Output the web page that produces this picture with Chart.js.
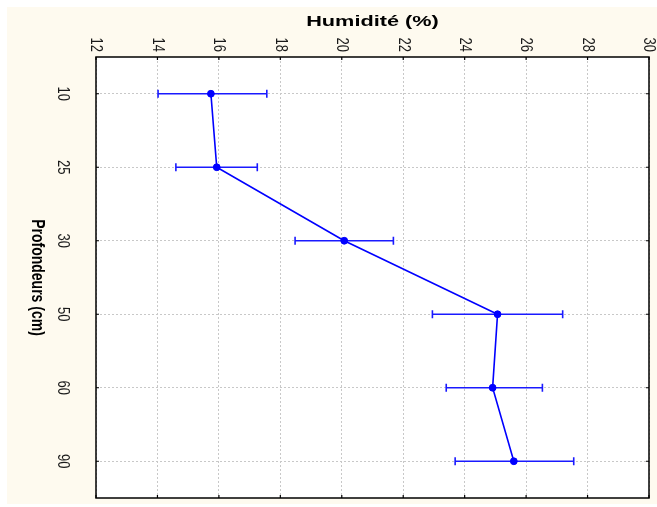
<!DOCTYPE html>
<html>
<head>
<meta charset="utf-8">
<script src="https://cdn.jsdelivr.net/npm/chart.js@4/dist/chart.umd.min.js"></script>
<style>
html,body{margin:0;padding:0;background:#ffffff;}
canvas{display:block;}
</style>
</head>
<body>
<canvas id="c" width="657" height="507" style="width:657px;height:507px"></canvas>
<script>
const depths = ['10', '25', '30', '50', '60', '90'];
const humidityMean = [15.74, 15.93, 20.08, 25.07, 24.91, 25.6];
const humidityLow = [14.02, 14.6, 18.48, 22.95, 23.4, 23.69];
const humidityHigh = [17.56, 17.25, 21.68, 27.19, 26.53, 27.55];
const xTickValues = [12, 14, 16, 18, 20, 22, 24, 26, 28, 30];
const xTitle = 'Humidité (%)';
const yTitle = 'Profondeurs (cm)';

const SX = 1.3;

const decorPlugin = {
  id: 'decor',
  beforeDraw(chart) {
    const ctx = chart.ctx, a = chart.chartArea;
    ctx.save();
    ctx.fillStyle = '#ffffff';
    ctx.fillRect(0, 0, chart.width, chart.height);
    ctx.fillStyle = '#fefaef';
    ctx.fillRect(7, 7, chart.width - 7, chart.height - 10);
    ctx.fillStyle = '#ffffff';
    ctx.fillRect(a.left, a.top, a.right - a.left, a.bottom - a.top);
    ctx.restore();
  },
  beforeDatasetsDraw(chart) {
    const ctx = chart.ctx, a = chart.chartArea;
    const xs = chart.scales.x, ys = chart.scales.y;
    ctx.save();
    ctx.strokeStyle = '#000000';
    ctx.lineWidth = 1.5;
    ctx.strokeRect(a.left, a.top, a.right - a.left, a.bottom - a.top);
    ctx.lineWidth = 1.2;
    ctx.beginPath();
    xTickValues.forEach(v => {
      const px = xs.getPixelForValue(v);
      ctx.moveTo(px, a.top); ctx.lineTo(px, a.top + 3);
      ctx.moveTo(px, a.bottom); ctx.lineTo(px, a.bottom - 3);
    });
    depths.forEach((d, i) => {
      const py = ys.getPixelForValue(i);
      ctx.moveTo(a.left, py); ctx.lineTo(a.left + 3, py);
      ctx.moveTo(a.right, py); ctx.lineTo(a.right - 3, py);
    });
    ctx.stroke();
    ctx.strokeStyle = '#1a1aff';
    ctx.lineWidth = 1.6;
    ctx.beginPath();
    depths.forEach((d, i) => {
      const py = ys.getPixelForValue(i);
      const x0 = xs.getPixelForValue(humidityLow[i]);
      const x1 = xs.getPixelForValue(humidityHigh[i]);
      ctx.moveTo(x0, py); ctx.lineTo(x1, py);
      ctx.moveTo(x0, py - 4); ctx.lineTo(x0, py + 4);
      ctx.moveTo(x1, py - 4); ctx.lineTo(x1, py + 4);
    });
    ctx.stroke();
    ctx.restore();
  },
  afterDraw(chart) {
    const ctx = chart.ctx, a = chart.chartArea;
    const xs = chart.scales.x, ys = chart.scales.y;
    ctx.save();
    ctx.fillStyle = '#1a1a1a';
    ctx.font = '13px "Liberation Sans", Arial, sans-serif';
    ctx.textAlign = 'right';
    ctx.textBaseline = 'middle';
    xTickValues.forEach(v => {
      const px = xs.getPixelForValue(v);
      ctx.save();
      ctx.translate(px, a.top - 5);
      ctx.scale(SX, 1);
      ctx.rotate(Math.PI / 2);
      ctx.fillText(String(v), 0, 0);
      ctx.restore();
    });
    ctx.textAlign = 'center';
    depths.forEach((d, i) => {
      const py = ys.getPixelForValue(i);
      ctx.save();
      ctx.translate(a.left - 33, py);
      ctx.scale(SX, 1);
      ctx.rotate(Math.PI / 2);
      ctx.fillText(d, 0, 0);
      ctx.restore();
    });
    ctx.fillStyle = '#000000';
    ctx.font = 'bold 14px "Liberation Sans", Arial, sans-serif';
    ctx.save();
    ctx.translate((a.left + a.right) / 2, 22);
    ctx.scale(1.55, 1);
    ctx.textAlign = 'center';
    ctx.fillText(xTitle, 0, 0);
    ctx.restore();
    ctx.font = 'bold 14px "Liberation Sans Narrow", "Liberation Sans", Arial, sans-serif';
    ctx.save();
    ctx.translate(37, (a.top + a.bottom) / 2);
    ctx.scale(1.25, 1);
    ctx.rotate(Math.PI / 2);
    ctx.textAlign = 'center';
    ctx.fillText(yTitle, 0, 0);
    ctx.restore();
    ctx.restore();
  }
};

new Chart(document.getElementById('c'), {
  type: 'line',
  data: {
    labels: depths,
    datasets: [{
      data: humidityMean,
      borderColor: '#0000ff',
      borderWidth: 1.6,
      backgroundColor: '#0000ff',
      pointBackgroundColor: '#0000ff',
      pointBorderColor: '#0000ff',
      pointRadius: 3.4,
      pointBorderWidth: 1,
      tension: 0,
      fill: false
    }]
  },
  options: {
    indexAxis: 'y',
    responsive: false,
    animation: false,
    devicePixelRatio: 1,
    layout: { padding: { left: 96, top: 57, right: 8, bottom: 9 } },
    plugins: { legend: { display: false }, tooltip: { enabled: false } },
    scales: {
      x: {
        type: 'linear',
        position: 'top',
        min: 12,
        max: 30,
        ticks: { stepSize: 2, display: false },
        grid: { color: '#c8c8c8', drawTicks: false, tickLength: 0, lineWidth: 1 },
        border: { display: false, dash: [2, 2] },
        title: { display: false }
      },
      y: {
        type: 'category',
        offset: true,
        ticks: { display: false },
        grid: { offset: false, color: '#c8c8c8', drawTicks: false, tickLength: 0, lineWidth: 1 },
        border: { display: false, dash: [2, 2] },
        title: { display: false }
      }
    }
  },
  plugins: [decorPlugin]
});
</script>
</body>
</html>
